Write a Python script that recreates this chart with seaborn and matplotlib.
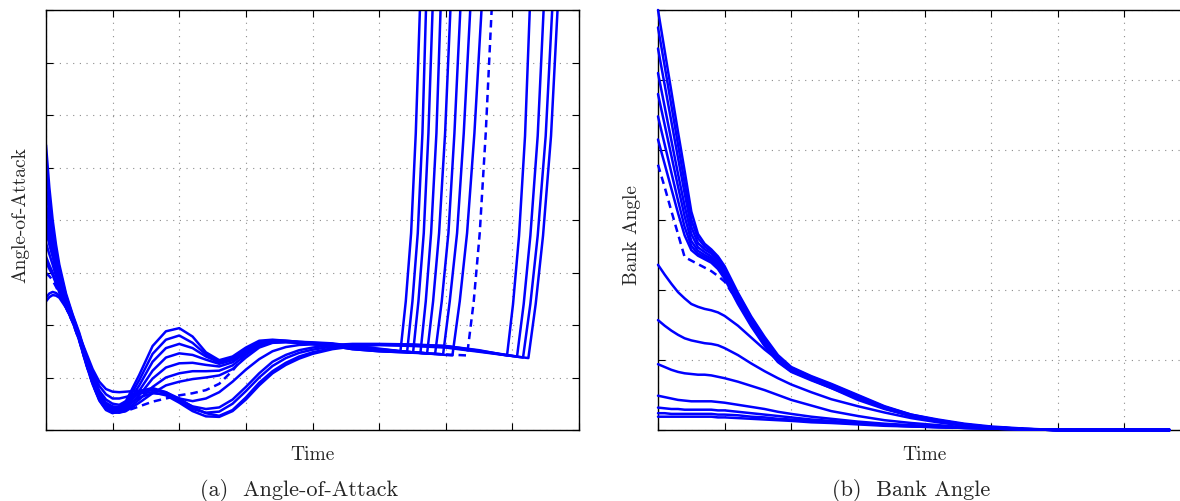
import numpy as np
import pandas as pd
import matplotlib
matplotlib.use("Agg")
import matplotlib.pyplot as plt
import seaborn as sns

# ---------------- data: (a) Angle-of-Attack ----------------
aoa_t = [0, 0.05, 0.1, 0.15, 0.2, 0.3, 0.4, 0.5, 0.6, 0.7, 0.8, 0.9, 1.0, 1.1, 1.2, 1.4, 1.6,
         1.8, 2.0, 2.2, 2.4, 2.6, 2.8, 3.0, 3.2, 3.4, 3.6, 3.8, 4.0, 4.3, 4.6, 5.0]

aoa_names = ["U1", "U2", "U3", "U4", "U5", "U6", "U7", "I", "D", "L1", "L2", "L3", "L4"]
aoa_styles = ["solid"] * 8 + ["dashed"] + ["solid"] * 4

aoa_values = [
    [5.43, 4.62, 4.0, 3.53, 3.15, 2.6, 2.2, 1.85, 1.42, 1.05, 0.75, 0.58, 0.5, 0.48, 0.55, 1.05, 1.6, 1.88, 1.94, 1.78, 1.48, 1.33, 1.4, 1.57, 1.7, 1.72, 1.7, 1.68, 1.67, 1.65, 1.6, 1.55],
    [5.05, 4.38, 3.85, 3.42, 3.08, 2.56, 2.18, 1.82, 1.38, 1.0, 0.7, 0.52, 0.45, 0.44, 0.5, 0.95, 1.45, 1.72, 1.8, 1.66, 1.44, 1.31, 1.38, 1.55, 1.68, 1.71, 1.7, 1.68, 1.66, 1.64, 1.58, 1.54],
    [4.65, 4.12, 3.7, 3.32, 3.0, 2.52, 2.16, 1.8, 1.36, 0.97, 0.67, 0.49, 0.42, 0.41, 0.46, 0.85, 1.3, 1.56, 1.64, 1.56, 1.4, 1.29, 1.36, 1.53, 1.66, 1.7, 1.69, 1.67, 1.65, 1.63, 1.57, 1.53],
    [4.32, 3.9, 3.55, 3.21, 2.92, 2.48, 2.14, 1.78, 1.34, 0.95, 0.64, 0.46, 0.39, 0.38, 0.43, 0.75, 1.13, 1.38, 1.46, 1.43, 1.34, 1.26, 1.33, 1.5, 1.64, 1.69, 1.69, 1.67, 1.65, 1.62, 1.56, 1.52],
    [4.06, 3.73, 3.45, 3.14, 2.86, 2.45, 2.12, 1.76, 1.32, 0.93, 0.62, 0.44, 0.37, 0.36, 0.41, 0.66, 0.98, 1.19, 1.27, 1.28, 1.24, 1.21, 1.29, 1.47, 1.62, 1.68, 1.68, 1.66, 1.64, 1.61, 1.55, 1.51],
    [3.81, 3.53, 3.3, 3.04, 2.8, 2.42, 2.1, 1.74, 1.3, 0.91, 0.6, 0.42, 0.35, 0.34, 0.38, 0.58, 0.82, 1.0, 1.08, 1.12, 1.12, 1.13, 1.23, 1.43, 1.6, 1.67, 1.68, 1.66, 1.64, 1.6, 1.54, 1.5],
    [3.56, 3.35, 3.15, 2.93, 2.72, 2.38, 2.08, 1.72, 1.28, 0.89, 0.58, 0.4, 0.33, 0.33, 0.36, 0.52, 0.7, 0.85, 0.92, 0.97, 1.0, 1.04, 1.16, 1.38, 1.57, 1.66, 1.67, 1.66, 1.64, 1.6, 1.54, 1.5],
    [3.3, 3.14, 3.0, 2.82, 2.65, 2.35, 2.06, 1.7, 1.26, 0.87, 0.56, 0.38, 0.32, 0.36, 0.45, 0.62, 0.7, 0.68, 0.6, 0.55, 0.6, 0.72, 0.92, 1.15, 1.35, 1.5, 1.58, 1.62, 1.63, 1.61, 1.56, 1.52],
    [2.99, 2.93, 2.85, 2.73, 2.6, 2.33, 2.05, 1.7, 1.27, 0.88, 0.58, 0.4, 0.34, 0.34, 0.36, 0.45, 0.54, 0.6, 0.66, 0.7, 0.76, 0.88, 1.13, 1.45, 1.63, 1.7, 1.69, 1.67, 1.65, 1.62, 1.57, 1.52],
    [3.9, 3.6, 3.35, 3.08, 2.83, 2.44, 2.12, 1.77, 1.33, 0.93, 0.6, 0.42, 0.35, 0.42, 0.55, 0.74, 0.8, 0.72, 0.57, 0.45, 0.4, 0.43, 0.58, 0.82, 1.08, 1.3, 1.43, 1.52, 1.57, 1.62, 1.64, 1.64],
    [3.2, 3.07, 2.95, 2.79, 2.62, 2.34, 2.06, 1.72, 1.29, 0.9, 0.58, 0.4, 0.33, 0.38, 0.5, 0.7, 0.78, 0.7, 0.54, 0.4, 0.33, 0.35, 0.5, 0.74, 1.0, 1.22, 1.37, 1.47, 1.53, 1.59, 1.62, 1.63],
    [2.45, 2.53, 2.57, 2.56, 2.52, 2.33, 2.08, 1.8, 1.48, 1.16, 0.92, 0.78, 0.73, 0.72, 0.73, 0.75, 0.76, 0.72, 0.6, 0.44, 0.32, 0.27, 0.38, 0.62, 0.9, 1.12, 1.28, 1.4, 1.48, 1.56, 1.6, 1.62],
    [2.52, 2.6, 2.63, 2.61, 2.56, 2.36, 2.1, 1.78, 1.44, 1.1, 0.84, 0.68, 0.6, 0.6, 0.63, 0.7, 0.72, 0.66, 0.52, 0.36, 0.26, 0.25, 0.36, 0.58, 0.85, 1.08, 1.24, 1.36, 1.45, 1.54, 1.59, 1.62],
]

# final phase of each run (divergence of angle-of-attack)
aoa_tail_t = [
    [5.2, 5.32, 5.4, 5.48, 5.55, 5.62],
    [5.25, 5.42, 5.5, 5.58, 5.65, 5.71],
    [5.3, 5.51, 5.59, 5.67, 5.74, 5.81],
    [5.4, 5.62, 5.7, 5.78, 5.86, 5.93],
    [5.5, 5.72, 5.81, 5.9, 5.99, 6.08],
    [5.6, 5.84, 5.94, 6.04, 6.13, 6.23],
    [5.7, 5.96, 6.06, 6.17, 6.27, 6.38],
    [5.5, 5.8, 6.1, 6.21, 6.32, 6.43, 6.55],
    [5.5, 6.0, 6.32, 6.42, 6.51, 6.6, 6.7],
    [5.5, 6.0, 6.5, 6.92, 7.01, 7.1, 7.19, 7.27],
    [5.5, 6.0, 6.5, 7.07, 7.17, 7.27, 7.38, 7.48],
    [5.5, 6.0, 6.5, 7.16, 7.27, 7.38, 7.5, 7.61],
    [5.5, 6.0, 6.5, 7.24, 7.35, 7.46, 7.58, 7.69],
]
aoa_tail_y = [
    [1.52, 1.5, 2.45, 3.75, 5.65, 8.3],
    [1.51, 1.49, 2.45, 3.75, 5.65, 8.3],
    [1.5, 1.48, 2.45, 3.75, 5.65, 8.3],
    [1.49, 1.47, 2.45, 3.75, 5.65, 8.3],
    [1.48, 1.46, 2.45, 3.75, 5.65, 8.3],
    [1.47, 1.45, 2.45, 3.75, 5.65, 8.3],
    [1.46, 1.44, 2.45, 3.75, 5.65, 8.3],
    [1.48, 1.45, 1.42, 2.45, 3.75, 5.65, 8.3],
    [1.48, 1.44, 1.42, 2.45, 3.75, 5.65, 8.3],
    [1.63, 1.6, 1.52, 1.42, 2.4, 3.7, 5.6, 8.3],
    [1.62, 1.6, 1.51, 1.4, 2.4, 3.7, 5.6, 8.3],
    [1.61, 1.58, 1.5, 1.38, 2.4, 3.7, 5.6, 8.3],
    [1.6, 1.57, 1.49, 1.37, 2.4, 3.7, 5.6, 8.3],
]

# ---------------- data: (b) Bank Angle ----------------
bank_t = [0, 0.1, 0.2, 0.3, 0.4, 0.5, 0.6, 0.7, 0.8, 0.9, 1.0, 1.2, 1.4, 1.6,
          1.8, 2.0, 2.3, 2.6, 3.0, 3.4, 3.8, 4.2, 4.6, 5.0, 5.5, 6.0, 7.68]

bank_names = ["B1", "B2", "B3", "B4", "B5", "B6", "B7", "B8", "C1", "C2", "C3", "C4", "C5", "C6", "C7"]
bank_styles = ["solid"] * 7 + ["dashed"] + ["solid"] * 7

bank_values = [
    [6.0, 5.42, 4.84, 4.26, 3.7, 3.12, 2.8, 2.66, 2.58, 2.48, 2.34, 1.96, 1.62, 1.33, 1.07, 0.9, 0.77, 0.66, 0.5, 0.34, 0.22, 0.15, 0.09, 0.05, 0.02, 0.0, 0.0],
    [5.75, 5.2, 4.64, 4.08, 3.53, 3.0, 2.74, 2.62, 2.55, 2.46, 2.31, 1.94, 1.6, 1.31, 1.05, 0.89, 0.76, 0.65, 0.49, 0.33, 0.22, 0.14, 0.08, 0.04, 0.015, 0.0, 0.0],
    [5.45, 4.93, 4.41, 3.89, 3.38, 2.9, 2.67, 2.58, 2.52, 2.43, 2.28, 1.91, 1.57, 1.28, 1.03, 0.87, 0.75, 0.64, 0.48, 0.33, 0.21, 0.14, 0.08, 0.04, 0.015, 0.0, 0.0],
    [5.1, 4.62, 4.14, 3.66, 3.2, 2.8, 2.61, 2.54, 2.48, 2.39, 2.25, 1.88, 1.54, 1.25, 1.01, 0.86, 0.74, 0.63, 0.47, 0.32, 0.21, 0.13, 0.08, 0.04, 0.015, 0.0, 0.0],
    [4.8, 4.36, 3.92, 3.48, 3.05, 2.7, 2.56, 2.5, 2.45, 2.36, 2.22, 1.85, 1.52, 1.23, 0.99, 0.85, 0.73, 0.62, 0.47, 0.32, 0.21, 0.13, 0.07, 0.04, 0.01, 0.0, 0.0],
    [4.48, 4.08, 3.68, 3.28, 2.9, 2.63, 2.52, 2.47, 2.42, 2.33, 2.19, 1.82, 1.5, 1.21, 0.98, 0.84, 0.72, 0.61, 0.46, 0.31, 0.2, 0.13, 0.07, 0.04, 0.01, 0.0, 0.0],
    [4.15, 3.8, 3.45, 3.1, 2.78, 2.57, 2.49, 2.44, 2.39, 2.3, 2.16, 1.8, 1.48, 1.2, 0.97, 0.83, 0.71, 0.6, 0.45, 0.31, 0.2, 0.12, 0.07, 0.03, 0.01, 0.0, 0.0],
    [3.79, 3.47, 3.13, 2.8, 2.47, 2.42, 2.37, 2.32, 2.27, 2.2, 2.12, 1.83, 1.52, 1.23, 1.0, 0.85, 0.73, 0.62, 0.46, 0.32, 0.21, 0.13, 0.07, 0.04, 0.01, 0.0, 0.0],
    [2.36, 2.22, 2.09, 1.97, 1.88, 1.8, 1.76, 1.73, 1.71, 1.68, 1.63, 1.49, 1.32, 1.15, 1.0, 0.87, 0.72, 0.6, 0.43, 0.3, 0.2, 0.12, 0.07, 0.04, 0.01, 0.0, 0.0],
    [1.57, 1.49, 1.42, 1.36, 1.31, 1.28, 1.26, 1.24, 1.23, 1.21, 1.17, 1.07, 0.95, 0.84, 0.74, 0.65, 0.54, 0.44, 0.34, 0.25, 0.17, 0.11, 0.06, 0.03, 0.01, 0.0, 0.0],
    [0.94, 0.9, 0.86, 0.83, 0.81, 0.8, 0.79, 0.79, 0.78, 0.76, 0.74, 0.69, 0.63, 0.57, 0.5, 0.43, 0.35, 0.27, 0.2, 0.14, 0.1, 0.07, 0.04, 0.02, 0.01, 0.0, 0.0],
    [0.49, 0.47, 0.45, 0.43, 0.42, 0.41, 0.41, 0.41, 0.41, 0.4, 0.39, 0.36, 0.33, 0.3, 0.26, 0.23, 0.19, 0.16, 0.12, 0.09, 0.07, 0.05, 0.03, 0.02, 0.01, 0.0, 0.0],
    [0.32, 0.31, 0.3, 0.3, 0.29, 0.29, 0.29, 0.29, 0.29, 0.28, 0.28, 0.26, 0.24, 0.22, 0.2, 0.18, 0.15, 0.13, 0.1, 0.08, 0.06, 0.04, 0.03, 0.02, 0.01, 0.0, 0.0],
    [0.24, 0.24, 0.23, 0.23, 0.23, 0.23, 0.23, 0.23, 0.23, 0.22, 0.22, 0.21, 0.19, 0.18, 0.16, 0.15, 0.13, 0.11, 0.09, 0.07, 0.05, 0.04, 0.03, 0.02, 0.01, 0.0, 0.0],
    [0.19, 0.19, 0.19, 0.19, 0.19, 0.19, 0.19, 0.19, 0.19, 0.18, 0.18, 0.17, 0.16, 0.15, 0.14, 0.13, 0.11, 0.1, 0.08, 0.06, 0.05, 0.04, 0.03, 0.02, 0.01, 0.0, 0.0],
]

x_label = "Time"
aoa_ylabel = "Angle-of-Attack"
bank_ylabel = "Bank Angle"
caption_a = "(a)  Angle-of-Attack"
caption_b = "(b)  Bank Angle"

# ---------------- build long-form tables ----------------
rows = []
for name, style, vals, tt, ty in zip(aoa_names, aoa_styles, aoa_values, aoa_tail_t, aoa_tail_y):
    for t, v in zip(list(aoa_t) + tt, list(vals) + ty):
        rows.append((name, style, t, v))
aoa_df = pd.DataFrame(rows, columns=["run", "style", "t", "value"])

rows = []
for name, style, vals in zip(bank_names, bank_styles, bank_values):
    for t, v in zip(bank_t, vals):
        rows.append((name, style, t, v))
bank_df = pd.DataFrame(rows, columns=["run", "style", "t", "value"])

# ---------------- style ----------------
sns.set_style("white")
plt.rcParams["font.family"] = ["cmr10", "DejaVu Serif"]
plt.rcParams["mathtext.fontset"] = "cm"
plt.rcParams["axes.unicode_minus"] = False

W, H = 1180, 501
fig = plt.figure(figsize=(W / 100, H / 100), dpi=100)
ax1 = fig.add_axes([46 / W, (H - 430) / H, 533 / W, 420 / H])
ax2 = fig.add_axes([658 / W, (H - 430) / H, 533 / W, 420 / H])

blue = "#0000ff"
dash_map = {"solid": "", "dashed": (3, 2)}

sns.lineplot(data=aoa_df, x="t", y="value", units="run", estimator=None,
             style="style", dashes=dash_map, color=blue, linewidth=1.8,
             legend=False, sort=False, ax=ax1)
sns.lineplot(data=bank_df, x="t", y="value", units="run", estimator=None,
             style="style", dashes=dash_map, color=blue, linewidth=1.8,
             legend=False, sort=False, ax=ax2)

for ln in ax1.lines + ax2.lines:
    ln.set_solid_joinstyle("round")
    ln.set_dash_joinstyle("round")
for ln in ax2.lines:
    ln.set_clip_on(False)
    ln.set_zorder(3)

ax1.set_xlim(0, 8)
ax1.set_ylim(0, 8)
ax1.set_xticks(range(0, 9))
ax1.set_yticks(range(0, 9))
ax2.set_xlim(0, 8)
ax2.set_ylim(0, 6)
ax2.set_xticks(range(0, 9))
ax2.set_yticks(range(0, 7))

for ax in (ax1, ax2):
    ax.grid(True, color="#8c8c8c", linestyle=(0, (1, 5)), linewidth=0.8)
    ax.tick_params(direction="in", length=5, width=0.8, color="black",
                   top=True, right=True, bottom=True, left=True,
                   labelbottom=False, labelleft=False)
    for sp in ax.spines.values():
        sp.set_color("black")
        sp.set_linewidth(1.0)
    ax.set_xlabel(x_label, fontsize=14, va="center")
    ax.xaxis.set_label_coords(0.5, (430 - 455) / 420)

ax1.set_ylabel(aoa_ylabel, fontsize=14, va="center")
ax1.yaxis.set_label_coords((20 - 46) / 533, (430 - 215) / 420)
ax2.set_ylabel(bank_ylabel, fontsize=14, va="center")
ax2.yaxis.set_label_coords((632 - 658) / 533, (430 - 235) / 420)

fig.text(299 / W, 1 - 490 / H, caption_a, ha="center", va="center", fontsize=16)
fig.text(911 / W, 1 - 490 / H, caption_b, ha="center", va="center", fontsize=16)

fig.savefig("out.png", dpi=100, facecolor="white")
